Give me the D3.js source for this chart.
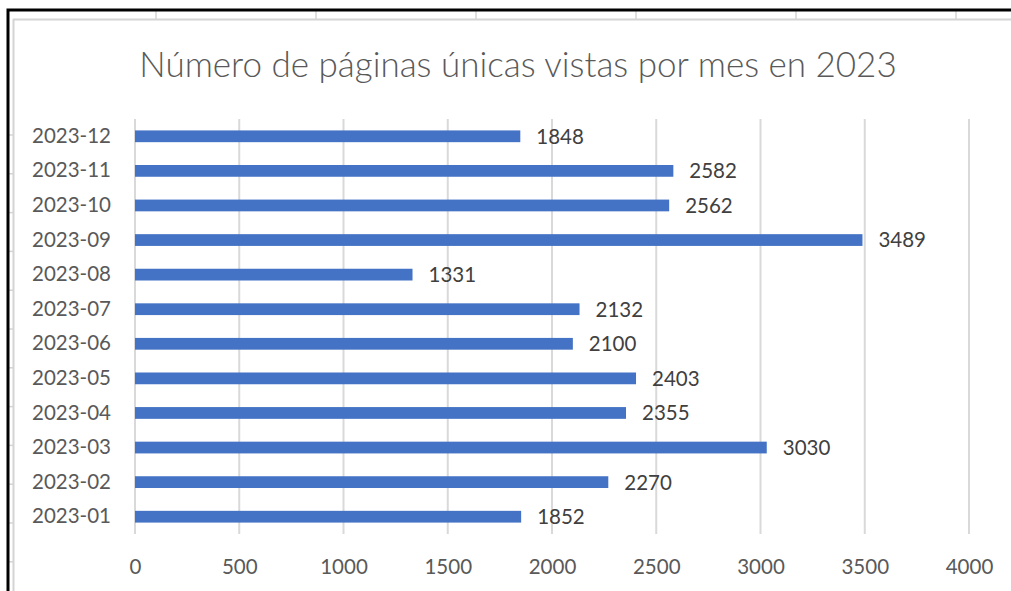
<!DOCTYPE html>
<html lang="es">
<head>
  <meta charset="UTF-8">
  <title>Páginas únicas 2023</title>
  <script src="https://cdnjs.cloudflare.com/ajax/libs/d3/7.8.5/d3.min.js"></script>
  <style>
    body { margin: 0; background: #fff; }
    text { font-family: Lato, "Open Sans", sans-serif; }
    .grid line { stroke: #d9d9d9; stroke-width: 2px; }
    .bar { fill: #4472c4; }
    .lbl { fill: #404040; font-size: 20.5px; }
    .axis text { fill: #595959; font-size: 20.5px; }
    .title { fill: #595959; font-size: 35px; font-weight: 300; }
  </style>
</head>
<body>
<div id="wrapper"></div>
<script>
const months = ["2023-01", "2023-02", "2023-03", "2023-04", "2023-05", "2023-06",
                "2023-07", "2023-08", "2023-09", "2023-10", "2023-11", "2023-12"];
const views = [1852, 2270, 3030, 2355, 2403, 2100, 2132, 1331, 3489, 2562, 2582, 1848];
const xTicks = [0, 500, 1000, 1500, 2000, 2500, 3000, 3500, 4000];
const title = "Número de páginas únicas vistas por mes en 2023";

const width = 1011, height = 591;

const svg = d3.select("#wrapper").append("svg")
    .attr("width", width)
    .attr("height", height);

// spreadsheet bits peeking around the chart frame
const sheet = svg.append("g");
sheet.append("line").attr("x1", 13).attr("x2", width).attr("y1", 19.5).attr("y2", 19.5)
    .attr("stroke", "#d4d4d4").attr("stroke-width", 2);
sheet.append("line").attr("x1", 13.5).attr("x2", 13.5).attr("y1", 19).attr("y2", height)
    .attr("stroke", "#d4d4d4").attr("stroke-width", 2);
sheet.selectAll(".col").data(d3.range(6)).enter().append("line")
    .attr("x1", d => 156 + d * 160).attr("x2", d => 156 + d * 160)
    .attr("y1", 11).attr("y2", 19)
    .attr("stroke", "#d4d4d4").attr("stroke-width", 1.5);
sheet.selectAll(".row").data(d3.range(13)).enter().append("line")
    .attr("x1", 9).attr("x2", 13)
    .attr("y1", d => 135 + d * 38.8).attr("y2", d => 135 + d * 38.8)
    .attr("stroke", "#d4d4d4").attr("stroke-width", 1.5);
svg.append("path")
    .attr("d", `M8,${height} V10 H${width}`)
    .attr("fill", "none").attr("stroke", "#000").attr("stroke-width", 3);

const x = d3.scaleLinear().domain([0, 4000]).range([135, 969]);
const y = d3.scaleBand().domain(months.slice().reverse()).range([119, 534]).paddingInner(0.66).paddingOuter(0.33);

svg.append("text")
    .attr("class", "title")
    .attr("x", 518).attr("y", 77)
    .attr("text-anchor", "middle")
    .text(title);

svg.append("g").attr("class", "grid")
    .selectAll("line").data(xTicks).enter().append("line")
    .attr("x1", d => x(d)).attr("x2", d => x(d))
    .attr("y1", 119).attr("y2", 534);

const data = months.map((m, i) => ({ month: m, value: views[i] }));

svg.append("g").selectAll("rect").data(data).enter().append("rect")
    .attr("class", "bar")
    .attr("x", x(0))
    .attr("y", d => y(d.month))
    .attr("width", d => x(d.value) - x(0))
    .attr("height", y.bandwidth());

svg.append("g").selectAll("text").data(data).enter().append("text")
    .attr("class", "lbl")
    .attr("x", d => x(d.value) + 16)
    .attr("y", d => y(d.month) + y.bandwidth() / 2)
    .attr("dy", "0.36em")
    .text(d => d.value);

const yAxis = svg.append("g").attr("class", "axis")
    .attr("transform", "translate(135,0)")
    .call(d3.axisLeft(y).tickSize(0).tickPadding(24));
yAxis.select(".domain").remove();

const xAxis = svg.append("g").attr("class", "axis")
    .attr("transform", "translate(0,534)")
    .call(d3.axisBottom(x).tickValues(xTicks).tickSize(0).tickPadding(25).tickFormat(d3.format("d")));
xAxis.select(".domain").remove();
</script>
</body>
</html>
